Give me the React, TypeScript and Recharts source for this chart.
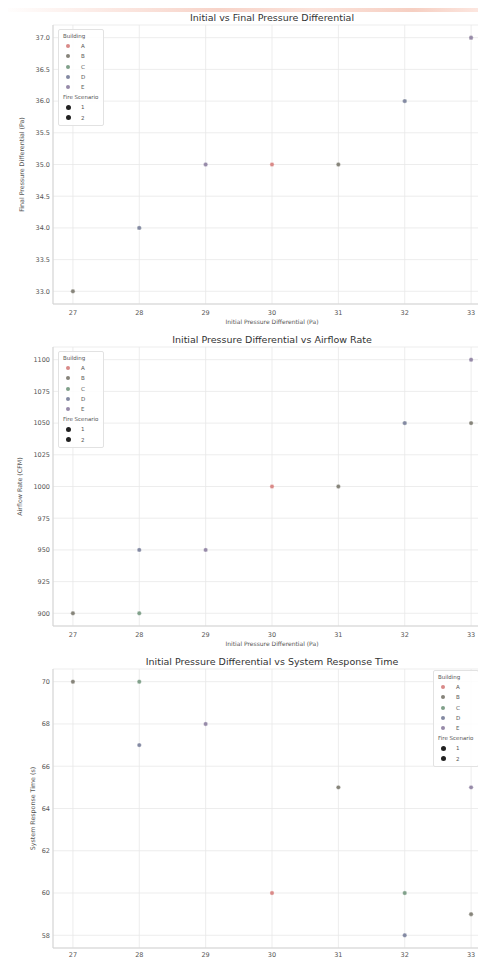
import React from 'react';
import { ScatterChart, Scatter, XAxis, YAxis, CartesianGrid } from 'recharts';

const buildingNames = ['A', 'B', 'C', 'D', 'E'];
const scenarioNames = ['1', '2'];
const buildings = ['B', 'C', 'D', 'E', 'A', 'B', 'C', 'D', 'E', 'B'];
const fireScenarios = ['1', '2', '1', '2', '1', '2', '1', '2', '1', '2'];
const initialPressure = [27, 28, 28, 29, 30, 31, 32, 32, 33, 33];
const finalPressure = [33, 34, 34, 35, 35, 35, 36, 36, 37, 37];
const airflowRate = [900, 900, 950, 950, 1000, 1000, 1050, 1050, 1100, 1050];
const responseTime = [70, 70, 67, 68, 60, 65, 60, 58, 65, 59];

const xTicks = [27, 28, 29, 30, 31, 32, 33];
const finalTicks = [33, 33.5, 34, 34.5, 35, 35.5, 36, 36.5, 37];
const airflowTicks = [900, 925, 950, 975, 1000, 1025, 1050, 1075, 1100];
const responseTicks = [58, 60, 62, 64, 66, 68, 70];

const buildingColors: Record<string, string> = {
  A: '#d98a88',
  B: '#86847a',
  C: '#80a08a',
  D: '#8389a2',
  E: '#968aa8',
};

const FONT = '"DejaVu Sans", sans-serif';

type Pt = { x: number; y: number; scenario: string };

function seriesFor(b: string, ys: number[]): Pt[] {
  const out: Pt[] = [];
  buildings.forEach((bb, i) => {
    if (bb === b) out.push({ x: initialPressure[i], y: ys[i], scenario: fireScenarios[i] });
  });
  return out;
}

const Dot = (props: any) => {
  const { cx, cy, fill } = props;
  if (cx == null || cy == null) return null;
  return <circle cx={cx} cy={cy} r={2.2} fill={fill} stroke="#ffffff" strokeWidth={0.4} />;
};

function LegendBox({ left, top }: { left: number; top: number }) {
  const row: React.CSSProperties = { display: 'flex', alignItems: 'center', height: 10.2 };
  return (
    <div
      style={{
        position: 'absolute',
        left,
        top,
        border: '1px solid #e2e2e2',
        borderRadius: 2,
        background: 'rgba(255,255,255,0.85)',
        padding: '1px 5px 2px 4px',
        fontFamily: FONT,
        fontSize: 5.5,
        color: '#555',
        lineHeight: '10.2px',
      }}
    >
      <div style={{ height: 10.2 }}>Building</div>
      {buildingNames.map((b) => (
        <div key={b} style={row}>
          <span style={{ display: 'inline-block', width: 4, height: 4, borderRadius: 2, background: buildingColors[b], marginLeft: 3, marginRight: 11 }} />
          <span>{b}</span>
        </div>
      ))}
      <div style={{ height: 10.2 }}>Fire Scenario</div>
      {scenarioNames.map((s) => (
        <div key={s} style={row}>
          <span style={{ display: 'inline-block', width: 5, height: 5, borderRadius: 3, background: '#222', marginLeft: 2.5, marginRight: 10.5 }} />
          <span>{s}</span>
        </div>
      ))}
    </div>
  );
}

type PanelProps = {
  top: number;
  title: string;
  ys: number[];
  yDomain: [number, number];
  yTicks: number[];
  yLabel: string;
  yLabelOffset: number;
  fmt: (v: number) => string;
  legendLeft: number;
  legendTop: number;
  xLabelTop: number;
  xTickMargin: number;
};

function Panel(p: PanelProps) {
  return (
    <div style={{ position: 'absolute', left: 0, top: p.top, width: 491, height: 340 }}>
      <ScatterChart width={491} height={340} margin={{ top: 25, right: 0, bottom: 0, left: 0 }}>
        <CartesianGrid stroke="#e8e8e8" strokeWidth={0.8} />
        <XAxis
          type="number"
          dataKey="x"
          domain={[26.7, 33.3]}
          ticks={xTicks}
          allowDataOverflow
          height={36}
          tickSize={0}
          tickMargin={p.xTickMargin}
          axisLine={{ stroke: '#d4d4d4' }}
          tick={{ fontSize: 6.5, fill: '#555', fontFamily: FONT }}
        />
        <XAxis
          xAxisId="top"
          orientation="top"
          type="number"
          domain={[26.7, 33.3]}
          height={0}
          tick={false}
          tickLine={false}
          axisLine={{ stroke: '#e0e0e0' }}
        />
        <YAxis
          type="number"
          dataKey="y"
          domain={p.yDomain}
          ticks={p.yTicks}
          allowDataOverflow
          width={53}
          tickSize={0}
          tickMargin={3}
          tickFormatter={p.fmt}
          axisLine={{ stroke: '#d4d4d4' }}
          tick={{ fontSize: 6.5, fill: '#555', fontFamily: FONT }}
          label={{
            value: p.yLabel,
            angle: -90,
            position: 'insideLeft',
            offset: p.yLabelOffset,
            style: { fontSize: 6.3, fill: '#555', fontFamily: FONT, textAnchor: 'middle' },
          }}
        />
        {buildingNames.map((b) => (
          <Scatter
            key={b}
            name={b}
            data={seriesFor(b, p.ys)}
            fill={buildingColors[b]}
            shape={<Dot />}
            isAnimationActive={false}
          />
        ))}
      </ScatterChart>
      <div
        style={{
          position: 'absolute',
          left: 272,
          top: 12,
          transform: 'translateX(-50%)',
          whiteSpace: 'nowrap',
          fontFamily: FONT,
          fontSize: 9.5,
          color: '#333',
        }}
      >
        {p.title}
      </div>
      <div
        style={{
          position: 'absolute',
          left: 272,
          top: p.xLabelTop,
          transform: 'translateX(-50%)',
          whiteSpace: 'nowrap',
          fontFamily: FONT,
          fontSize: 6,
          color: '#555',
          lineHeight: '6px',
        }}
      >
        Initial Pressure Differential (Pa)
      </div>
      <LegendBox left={p.legendLeft} top={p.legendTop} />
    </div>
  );
}

export default function App() {
  return (
    <div
      style={{
        position: 'relative',
        width: 486,
        height: 967,
        margin: -8,
        overflow: 'hidden',
        background: '#ffffff',
      }}
    >
      <div
        style={{
          position: 'absolute',
          left: 0,
          top: 0,
          width: 486,
          height: 12,
          background: 'linear-gradient(90deg, #ffffff 0%, #fbe6e0 25%, #f7d3c8 45%, #fbe2da 65%, #f6cfc2 85%, #fde9e3 100%)',
        }}
      />
      <Panel
        top={0}
        title="Initial vs Final Pressure Differential"
        ys={finalPressure}
        yDomain={[32.8, 37.2]}
        yTicks={finalTicks}
        yLabel="Final Pressure Differential (Pa)"
        yLabelOffset={22}
        fmt={(v) => v.toFixed(1)}
        legendLeft={58}
        legendTop={29}
        xLabelTop={319}
        xTickMargin={6}
      />
      <Panel
        top={322}
        title="Initial Pressure Differential vs Airflow Rate"
        ys={airflowRate}
        yDomain={[890, 1110]}
        yTicks={airflowTicks}
        yLabel="Airflow Rate (CFM)"
        yLabelOffset={20}
        fmt={(v) => String(v)}
        legendLeft={58}
        legendTop={29}
        xLabelTop={319}
        xTickMargin={6}
      />
      <Panel
        top={644}
        title="Initial Pressure Differential vs System Response Time"
        ys={responseTime}
        yDomain={[57.4, 70.6]}
        yTicks={responseTicks}
        yLabel="System Response Time (s)"
        yLabelOffset={33}
        fmt={(v) => String(v)}
        legendLeft={433}
        legendTop={26}
        xLabelTop={316}
        xTickMargin={4}
      />
    </div>
  );
}
